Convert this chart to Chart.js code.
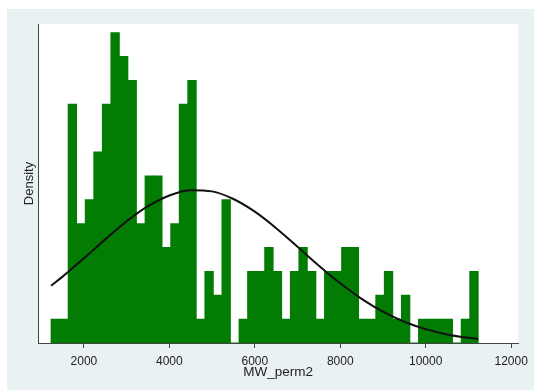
<!DOCTYPE html>
<html>
<head>
<meta charset="utf-8">
<script src="https://cdn.jsdelivr.net/npm/chart.js@4.4.1/dist/chart.umd.min.js"></script>
<style>
  html, body { margin: 0; padding: 0; background: #fff; }
  canvas { display: block; }
</style>
</head>
<body>
<canvas id="histChart" width="534" height="390"></canvas>
<script>
// histogram of MW_perm2: 50 bins, width 200, first bin starts at 1230
let binStart = 1230;
let binWidth = 200;
let binCounts = [1, 1, 10, 5, 6, 8, 10, 13, 12, 11,
                 5, 7, 7, 4, 5, 10, 11, 1, 3, 2,
                 6, 0, 1, 3, 3, 4, 3, 1, 3, 4,
                 3, 1, 3, 3, 4, 4, 1, 1, 2, 3,
                 1, 2, 0, 1, 1, 1, 1, 0, 1, 3];

// normal overlay, same units as binCounts
let curveX = [1230, 1500, 2000, 2500, 3000, 3500, 4000, 4500, 5000, 5500, 6000,
              6500, 7000, 7500, 8000, 8500, 9000, 9500, 10000, 10500, 11000, 11230];
let curveY = [2.40, 2.78, 3.55, 4.34, 5.10, 5.73, 6.18, 6.40, 6.35, 6.03, 5.50,
              4.81, 4.03, 3.24, 2.50, 1.85, 1.31, 0.89, 0.58, 0.36, 0.22, 0.17];

let xTicks = [2000, 4000, 6000, 8000, 10000, 12000];

let total = binCounts.reduce((a, b) => a + b, 0);
let toDensity = c => c / (total * binWidth);

let font = "'Liberation Sans', Arial, sans-serif";

// stata-ish backdrop: light grey graph region, white plot region
const backdrop = {
  id: "backdrop",
  beforeDraw(chart) {
    let ctx = chart.ctx, a = chart.chartArea;
    ctx.save();
    ctx.fillStyle = "#ffffff";
    ctx.fillRect(0, 0, chart.width, chart.height);
    ctx.fillStyle = "#eaf1f3";
    ctx.fillRect(7, 9, chart.width - 7, chart.height - 9);
    ctx.fillStyle = "#ffffff";
    ctx.fillRect(a.left, a.top, a.right - a.left, a.bottom - a.top);
    ctx.restore();
  }
};

let ctx = document.getElementById("histChart").getContext("2d");

let chart = new Chart(ctx, {
  type: "bar",
  data: {
    datasets: [
      {
        type: "line",
        data: curveX.map((x, i) => ({ x: x, y: toDensity(curveY[i]) })),
        borderColor: "#111111",
        borderWidth: 2,
        pointRadius: 0,
        cubicInterpolationMode: "monotone",
        fill: false,
        order: 0
      },
      {
        type: "bar",
        data: binCounts.map((c, i) => ({ x: binStart + binWidth * (i + 0.5), y: toDensity(c) })),
        backgroundColor: "#027c02",
        borderWidth: 0,
        barPercentage: 1,
        categoryPercentage: 1,
        inflateAmount: 0.4,
        order: 1
      }
    ]
  },
  options: {
    responsive: false,
    animation: false,
    devicePixelRatio: 1,
    layout: { padding: { left: 0, top: 24, right: 11, bottom: 0 } },
    plugins: { legend: { display: false }, tooltip: { enabled: false } },
    scales: {
      x: {
        type: "linear",
        min: 925,
        max: 12170,
        offset: false,
        afterBuildTicks: s => { s.ticks = xTicks.map(v => ({ value: v })); },
        afterFit: s => { s.height = 47; },
        ticks: {
          font: { family: font, size: 12 },
          color: "#222",
          padding: 6,
          maxRotation: 0,
          autoSkip: false,
          callback: v => String(v)
        },
        grid: { display: true, drawOnChartArea: false, drawTicks: true, tickLength: 5, color: "#444", offset: false },
        border: { display: true, color: "#444", width: 1 },
        title: {
          display: true,
          text: "MW_perm2",
          color: "#222",
          font: { family: font, size: 13.5 },
          padding: { top: 0, bottom: 9.5 }
        }
      },
      y: {
        min: 0,
        max: toDensity(13.36),
        afterFit: s => { s.width = 38; },
        ticks: { display: false },
        grid: { display: false },
        border: { display: true, color: "#444", width: 1 },
        title: {
          display: true,
          text: "Density",
          color: "#222",
          font: { family: font, size: 13 },
          padding: { top: 21.5, bottom: 0 }
        }
      }
    }
  },
  plugins: [backdrop]
});
</script>
</body>
</html>
